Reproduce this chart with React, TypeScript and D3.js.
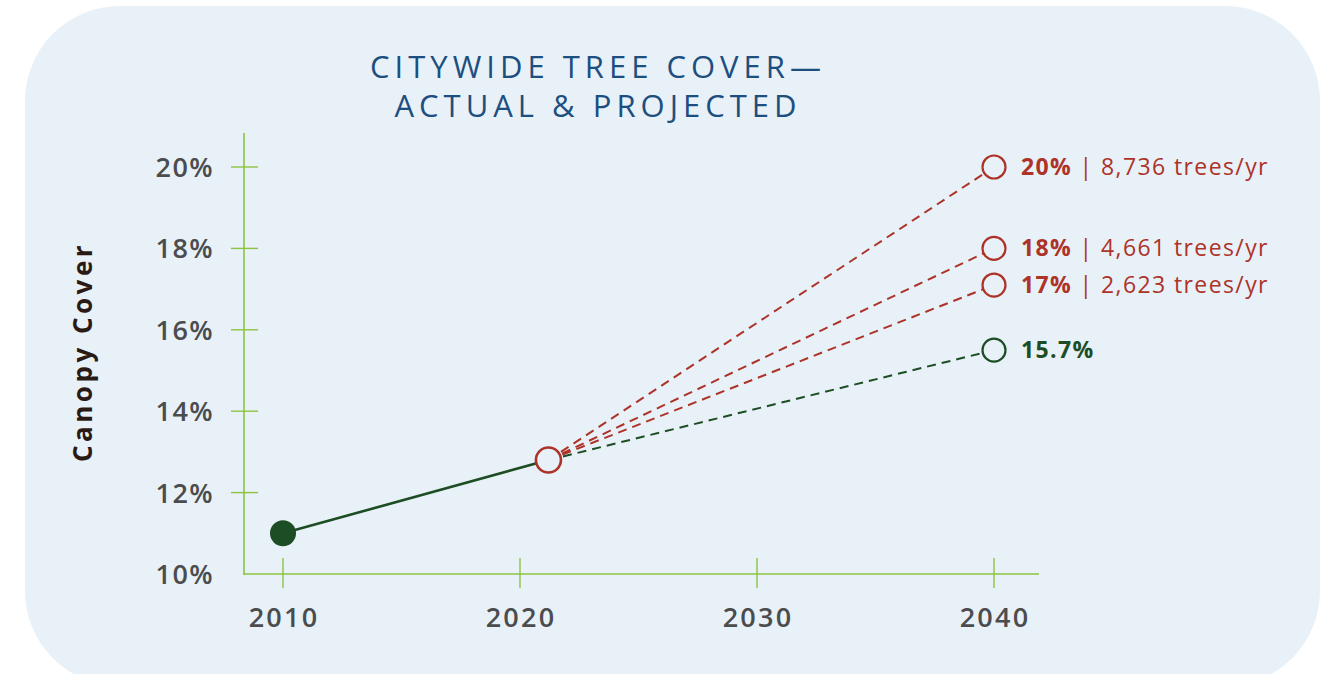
import React from "react";
import * as d3 from "d3";

const W = 1327;
const H = 674;

const yearTicks = [2010, 2020, 2030, 2040];
const pctTicks = [10, 12, 14, 16, 18, 20];

const actualYears = [2010, 2021.2];
const actualValues = [11.0, 12.8];

const projYear = 2040;
const projValues = [20, 18, 17.1, 15.5];
const projPctLabels = ["20%", "18%", "17%", "15.7%"];
const projTreeLabels = ["8,736 trees/yr", "4,661 trees/yr", "2,623 trees/yr", ""];
const projKinds = ["red", "red", "red", "green"];

const BG = "#e8f1f7";
const RED = "#ad3329";
const GREEN = "#1c4d24";
const AXIS = "#8cc43f";
const TICKTXT = "#4b4c4e";
const TITLE = "#1d4e80";
const FONT = "'Open Sans', 'DejaVu Sans', sans-serif";

export default function App() {
  const x = d3.scaleLinear().domain([2010, 2040]).range([283, 994]);
  const y = d3.scaleLinear().domain([10, 20]).range([574, 167]);

  const startX = x(actualYears[1]);
  const startY = y(actualValues[1]);
  const line = d3.line<[number, number]>().x((d) => x(d[0])).y((d) => y(d[1]));
  const actualPts: [number, number][] = actualYears.map((yr, i) => [yr, actualValues[i]]);

  return (
    <svg
      width={W}
      height={H}
      style={{ position: "fixed", left: 0, top: 0, display: "block" }}
      fontFamily={FONT}
    >
      <rect x={0} y={0} width={W} height={H} fill="#ffffff" />
      <rect x={25} y={6} width={1295} height={680} rx={95} ry={95} fill={BG} />

      {/* title */}
      <text x={598} y={78} textAnchor="middle" fill={TITLE} fontSize={31} fontWeight={400} letterSpacing={5}>
        CITYWIDE TREE COVER—
      </text>
      <text x={598} y={117} textAnchor="middle" fill={TITLE} fontSize={31} fontWeight={400} letterSpacing={5}>
        ACTUAL &amp; PROJECTED
      </text>

      {/* y axis title */}
      <text
        transform="translate(92,352) rotate(-90)"
        textAnchor="middle"
        fill="#2b1a14"
        fontSize={26}
        fontWeight={700}
        letterSpacing={3.5}
      >
        Canopy Cover
      </text>

      {/* axes */}
      <line x1={244} x2={244} y1={133} y2={574.5} stroke={AXIS} strokeWidth={1.6} />
      <line x1={243} x2={1039} y1={574} y2={574} stroke={AXIS} strokeWidth={1.6} />
      {pctTicks.filter((t) => t > 10).map((t) => (
        <line key={"yt" + t} x1={231} x2={258} y1={y(t)} y2={y(t)} stroke={AXIS} strokeWidth={1.4} />
      ))}
      {yearTicks.map((t) => (
        <line key={"xt" + t} x1={x(t)} x2={x(t)} y1={558} y2={588} stroke={AXIS} strokeWidth={1.4} />
      ))}
      {pctTicks.map((t) => (
        <text key={"yl" + t} x={214} y={y(t) + 10} textAnchor="end" fill={TICKTXT} fontSize={27} fontWeight={600} letterSpacing={1.4}>
          {t}%
        </text>
      ))}
      {yearTicks.map((t) => (
        <text key={"xl" + t} x={x(t) + 1} y={627} textAnchor="middle" fill={TICKTXT} fontSize={27} fontWeight={600} letterSpacing={2.2}>
          {t}
        </text>
      ))}

      {/* projections */}
      {projValues.map((v, i) => (
        <line
          key={"pl" + i}
          x1={startX}
          y1={startY}
          x2={x(projYear)}
          y2={y(v)}
          stroke={projKinds[i] === "red" ? RED : GREEN}
          strokeWidth={2}
          strokeDasharray="9,6"
        />
      ))}

      {/* actual line */}
      <path d={line(actualPts) || ""} fill="none" stroke={GREEN} strokeWidth={2.6} />
      <circle cx={x(actualYears[0])} cy={y(actualValues[0])} r={13} fill={GREEN} />
      <circle cx={startX} cy={startY} r={12.5} fill={BG} stroke={RED} strokeWidth={2.6} />

      {projValues.map((v, i) => {
        const c = projKinds[i] === "red" ? RED : GREEN;
        return (
          <g key={"pc" + i}>
            <circle cx={x(projYear)} cy={y(v)} r={11.5} fill={BG} stroke={c} strokeWidth={2.2} />
            <text x={1021} y={y(v) + 8} fill={c} fontSize={23} letterSpacing={1.4}>
              <tspan fontWeight={700}>{projPctLabels[i]}</tspan>
              {projTreeLabels[i] ? <tspan fontWeight={400}>{" | " + projTreeLabels[i]}</tspan> : null}
            </text>
          </g>
        );
      })}
    </svg>
  );
}
